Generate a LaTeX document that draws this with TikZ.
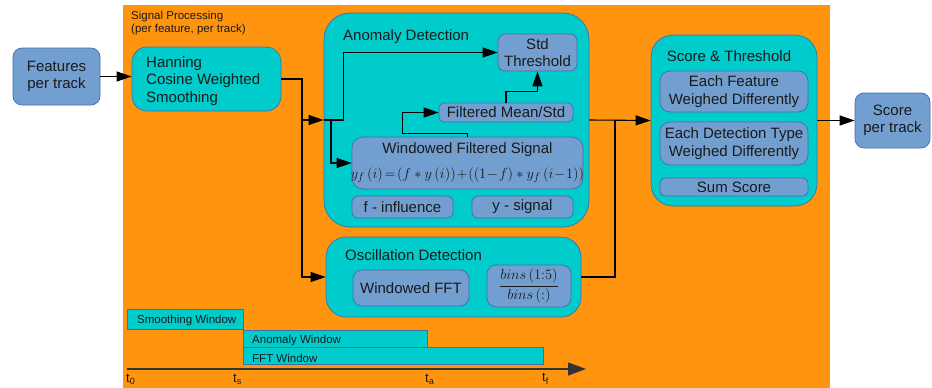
\documentclass[tikz,border=0pt]{standalone}
\usepackage[no-math]{fontspec}
\setmainfont{Liberation Sans}
\usetikzlibrary{arrows.meta,calc}
\definecolor{orangef}{HTML}{FF950E}
\definecolor{tealf}{HTML}{00CCCC}
\definecolor{bluef}{HTML}{729FCF}
\definecolor{bluedk}{HTML}{3F6FA8}
\definecolor{txt}{HTML}{1A1A1A}
\newcommand\fsz[2]{\fontsize{#1}{#2}\selectfont}
\tikzset{
  bluebox/.style={draw=bluedk, fill=bluef, rounded corners=7pt, line width=0.7pt, align=center, inner sep=0pt, font=\fsz{15}{17.5}, text=txt},
  tealbox/.style={draw=bluedk, fill=tealf, line width=0.7pt, inner sep=0pt},
  winbox/.style={draw=bluedk, fill=tealf, line width=0.7pt, inner sep=0pt},
  lbl/.style={inner sep=0pt, text=txt},
  conn/.style={line width=1.1pt, draw=black},
  arr/.style={conn, -{Triangle[length=15pt,width=10pt]}},
}
\begin{document}
\begin{tikzpicture}[x=1pt,y=-1pt]
\useasboundingbox (0,0) rectangle (932,388);
% background panel
\node[draw=gray!70, fill=orangef, line width=0.8pt, minimum width=706pt, minimum height=386pt, inner sep=0pt] (bg) at (476,198) {};
\node[lbl, anchor=north west, align=left, font=\fsz{11.5}{13}] (sptitle) at (131,11) {Signal Processing\\(per feature, per track)};

% input / output
\node[bluebox, rounded corners=9pt, minimum width=87pt, minimum height=57pt] (feat) at (56.5,76.5) {Features\\per track};
\node[bluebox, rounded corners=9pt, minimum width=75pt, minimum height=55pt] (score) at (892.5,120.5) {Score\\per track};

% smoothing
\node[tealbox, rounded corners=15pt, minimum width=149pt, minimum height=64pt] (hann) at (206.5,79) {};
\node[lbl, anchor=west, align=left, font=\fsz{15}{17.5}] (hanntxt) at (146,81) {Hanning\\Cosine Weighted\\Smoothing};

% anomaly detection
\node[tealbox, rounded corners=26pt, minimum width=265pt, minimum height=214pt] (anom) at (456.5,120) {};
\node[lbl, anchor=west, font=\fsz{15}{17.5}] (anomtitle) at (343,36.5) {Anomaly Detection};
\node[bluebox, minimum width=79pt, minimum height=37pt] (std) at (537.5,52.5) {Std\\Threshold};
\node[bluebox, rounded corners=5pt, minimum width=134pt, minimum height=19pt] (fms) at (506,112.5) {Filtered Mean/Std};
\node[bluebox, rounded corners=11pt, minimum width=231pt, minimum height=52pt] (wfs) at (467.5,163) {};
\node[lbl, font=\fsz{15}{17.5}] (wfstxt) at (467.5,150) {Windowed Filtered Signal};
\node[lbl, font=\fsz{15.5}{17.5}] (wfsmath) at (467.5,175) {$y_f\,(i)\!=\!(f*y\,(i))\!+\!((1\!-\!f)*y_f\,(i\!-\!1))$};
\node[bluebox, rounded corners=6pt, minimum width=101pt, minimum height=22pt] (finf) at (402.5,207) {f - influence};
\node[bluebox, rounded corners=6pt, minimum width=101pt, minimum height=22pt] (ysig) at (522.5,207) {y - signal};

% oscillation detection
\node[tealbox, rounded corners=20pt, minimum width=255pt, minimum height=80pt] (osc) at (453.5,277) {};
\node[lbl, anchor=west, font=\fsz{15}{17.5}] (osctitle) at (345,255) {Oscillation Detection};
\node[bluebox, rounded corners=9pt, minimum width=116pt, minimum height=36pt] (fft) at (411,288) {Windowed FFT};
\node[bluebox, rounded corners=9pt, minimum width=84pt, minimum height=42pt] (bins) at (529,286) {$\displaystyle\frac{bins\,(1{:}5)}{bins\,(:)}$};

% score and threshold
\node[tealbox, rounded corners=22pt, minimum width=166pt, minimum height=171pt] (st) at (734,120.5) {};
\node[lbl, font=\fsz{15}{17.5}] (sttitle) at (729,56) {Score \& Threshold};
\node[bluebox, rounded corners=10pt, minimum width=148pt, minimum height=41pt] (ef) at (734,91.5) {Each Feature\\Weighed Differently};
\node[bluebox, rounded corners=10pt, minimum width=148pt, minimum height=43pt] (edt) at (734,143.5) {Each Detection Type\\Weighed Differently};
\node[bluebox, rounded corners=5pt, minimum width=148pt, minimum height=18pt] (sum) at (734,187) {Sum Score};

% connectors
\coordinate (j1) at (302,120);
\coordinate (j2) at (331,120);
\coordinate (j3) at (615,120);
\draw[arr] (feat.east) -- (feat.east -| hann.west);
\draw[conn] (hann.east) -| (j1);
\draw[arr] (j1) -- (anom.west);
\draw[arr] (anom.west) -- ++(20,0) |- (std.west);
\draw[arr] (j2) |- (wfs.west);
\draw[arr] (j1) |- (osc.west);
\draw[arr] (wfs.north) -- ++(0,-3) -| ($(fms.west)+(-36,0)$) -- (fms.west);
\draw[arr] (fms.north) -- ++(0,-11) -| (std.south);
\draw[arr] (anom.east) -- (st.west);
\draw[conn] (osc.east) -| (j3);
\draw[arr] (st.east) -- (score.west);

% timeline
\node[winbox, minimum width=116pt, minimum height=20pt] (swin) at (185,319) {};
\node[winbox, minimum width=184pt, minimum height=17pt] (awin) at (335,338.5) {};
\node[winbox, minimum width=300pt, minimum height=17pt] (fwin) at (393,355.5) {};
\node[lbl, anchor=west, font=\fsz{11.5}{13}] (swintxt) at (137,321) {Smoothing Window};
\node[lbl, anchor=west, font=\fsz{11.5}{13}] (awintxt) at (252,341) {Anomaly Window};
\node[lbl, anchor=west, font=\fsz{11.5}{13}] (fwintxt) at (252,358) {FFT Window};
\coordinate (tax0) at (127,369);
\coordinate (tax1) at (586,369);
\draw[line width=1.1pt, draw=black!80, -{Triangle[length=18pt,width=13pt]}] (tax0) -- (tax1);
\node[lbl, anchor=west, font=\fsz{13}{14}] (t0) at (126,379) {t\textsubscript{0}};
\node[lbl, anchor=west, font=\fsz{13}{14}] (ts) at (233,379) {t\textsubscript{s}};
\node[lbl, anchor=west, font=\fsz{13}{14}] (ta) at (425,379) {t\textsubscript{a}};
\node[lbl, anchor=west, font=\fsz{13}{14}] (tf) at (542,379) {t\textsubscript{f}};
\end{tikzpicture}
\end{document}
